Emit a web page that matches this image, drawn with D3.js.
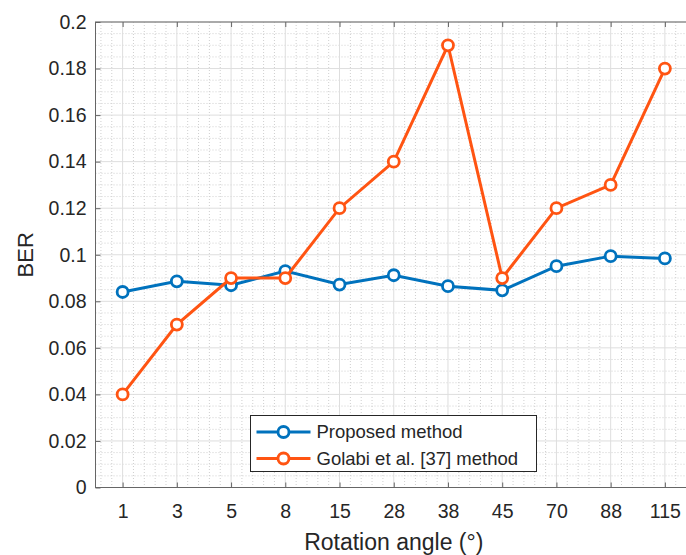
<!DOCTYPE html>
<html>
<head>
<meta charset="utf-8">
<script src="https://cdn.jsdelivr.net/npm/d3@7"></script>
<style>
  body { margin: 0; background: #fff; }
  text { font-family: "Liberation Sans", Arial, sans-serif; fill: #262626; }
</style>
</head>
<body>
<div id="chart"></div>
<script>
// Rotation angles (categorical x ticks)
const angles = ["1", "3", "5", "8", "15", "28", "38", "45", "70", "88", "115"];
const proposedBER = [0.084, 0.0886, 0.0869, 0.093, 0.0872, 0.0912, 0.0865, 0.0847, 0.0951, 0.0994, 0.0984];
const golabiBER = [0.04, 0.07, 0.09, 0.09, 0.12, 0.14, 0.19, 0.09, 0.12, 0.13, 0.18];
const yTicks = [0, 0.02, 0.04, 0.06, 0.08, 0.1, 0.12, 0.14, 0.16, 0.18, 0.2];
const seriesNames = ["Proposed method", "Golabi et al. [37] method"];

const config = {
  width: 686,
  height: 555,
  left: 95.5,
  right: 692,
  top: 22,
  bottom: 487.5,
  colors: ["#0072BD", "#FF5412"],
};

const svg = d3
  .select("#chart")
  .append("svg")
  .attr("width", config.width)
  .attr("height", config.height);

const x = d3.scaleLinear().domain([0.5, 11.5]).range([config.left, config.right]);
const y = d3.scaleLinear().domain([0, 0.2]).range([config.bottom, config.top]);

// Minor grid (dotted)
const minorX = d3.range(0.6, 11.5, 0.2).filter((v) => Math.abs(v - Math.round(v)) > 0.01);
const minorY = d3.range(0, 0.2001, 0.005).filter((v) => Math.abs(v / 0.02 - Math.round(v / 0.02)) > 0.01);

const grid = svg.append("g");
grid
  .selectAll("line.minorx")
  .data(minorX)
  .join("line")
  .attr("x1", (d) => x(d))
  .attr("x2", (d) => x(d))
  .attr("y1", config.top)
  .attr("y2", config.bottom)
  .attr("stroke", "#cfcfcf")
  .attr("stroke-dasharray", "1,2");
grid
  .selectAll("line.minory")
  .data(minorY)
  .join("line")
  .attr("x1", config.left)
  .attr("x2", config.right)
  .attr("y1", (d) => y(d))
  .attr("y2", (d) => y(d))
  .attr("stroke", "#cfcfcf")
  .attr("stroke-dasharray", "1,2");

// Major grid
grid
  .selectAll("line.majorx")
  .data(angles)
  .join("line")
  .attr("x1", (d, i) => x(i + 1))
  .attr("x2", (d, i) => x(i + 1))
  .attr("y1", config.top)
  .attr("y2", config.bottom)
  .attr("stroke", "#dedede");
grid
  .selectAll("line.majory")
  .data(yTicks)
  .join("line")
  .attr("x1", config.left)
  .attr("x2", config.right)
  .attr("y1", (d) => y(d))
  .attr("y2", (d) => y(d))
  .attr("stroke", "#dedede");

// Axes (ticks inward, box around)
const tickFmt = (d) => d3.format("")(+d.toFixed(2));
const xTickScale = d3.scalePoint().domain(angles).range([x(1), x(11)]);

svg
  .append("g")
  .attr("transform", `translate(0,${config.bottom})`)
  .call(d3.axisBottom(xTickScale).tickSizeInner(-5).tickSizeOuter(0).tickPadding(17))
  .call((g) => g.select(".domain").remove())
  .call((g) => g.selectAll("text").attr("font-size", 19.5).attr("dy", "0.71em"));

svg
  .append("g")
  .attr("transform", `translate(0,${config.top})`)
  .call(d3.axisTop(xTickScale).tickSizeInner(-5).tickSizeOuter(0).tickFormat(""))
  .call((g) => g.select(".domain").remove());

svg
  .append("g")
  .attr("transform", `translate(${config.left},0)`)
  .call(d3.axisLeft(y).tickValues(yTicks).tickFormat(tickFmt).tickSizeInner(-5).tickSizeOuter(0).tickPadding(9))
  .call((g) => g.select(".domain").remove())
  .call((g) => g.selectAll("text").attr("font-size", 19.5));

svg
  .append("g")
  .attr("transform", `translate(${config.right},0)`)
  .call(d3.axisRight(y).tickValues(yTicks).tickFormat("").tickSizeInner(-5).tickSizeOuter(0))
  .call((g) => g.select(".domain").remove());

svg.selectAll(".tick line").attr("stroke", "#666");

svg
  .append("rect")
  .attr("x", config.left)
  .attr("y", config.top)
  .attr("width", config.right - config.left)
  .attr("height", config.bottom - config.top)
  .attr("fill", "none")
  .attr("stroke", "#666")
  .attr("stroke-width", 1);

// Axis labels
svg
  .append("text")
  .attr("x", (config.left + config.right) / 2)
  .attr("y", 550)
  .attr("text-anchor", "middle")
  .attr("font-size", 23)
  .text("Rotation angle (°)");

svg
  .append("text")
  .attr("transform", `translate(33,${(config.top + config.bottom) / 2}) rotate(-90)`)
  .attr("text-anchor", "middle")
  .attr("font-size", 22)
  .text("BER");

// Series
const line = d3
  .line()
  .x((d, i) => x(i + 1))
  .y((d) => y(d));

[proposedBER, golabiBER].forEach((values, k) => {
  const g = svg.append("g");
  g.append("path")
    .datum(values)
    .attr("d", line)
    .attr("fill", "none")
    .attr("stroke", config.colors[k])
    .attr("stroke-width", 3);
  g.selectAll("circle")
    .data(values)
    .join("circle")
    .attr("cx", (d, i) => x(i + 1))
    .attr("cy", (d) => y(d))
    .attr("r", 5.5)
    .attr("fill", "#fff")
    .attr("stroke", config.colors[k])
    .attr("stroke-width", 2.8);
});

// Legend
const legend = svg.append("g").attr("transform", "translate(250.5,415.5)");
legend
  .append("rect")
  .attr("width", 286)
  .attr("height", 56)
  .attr("fill", "#fff")
  .attr("stroke", "#262626")
  .attr("stroke-width", 1);

seriesNames.forEach((name, k) => {
  const ly = 16.5 + k * 26.5;
  legend
    .append("line")
    .attr("x1", 6)
    .attr("x2", 60)
    .attr("y1", ly)
    .attr("y2", ly)
    .attr("stroke", config.colors[k])
    .attr("stroke-width", 3);
  legend
    .append("circle")
    .attr("cx", 33)
    .attr("cy", ly)
    .attr("r", 5.5)
    .attr("fill", "#fff")
    .attr("stroke", config.colors[k])
    .attr("stroke-width", 2.8);
  legend
    .append("text")
    .attr("x", 66)
    .attr("y", ly)
    .attr("dy", "0.35em")
    .attr("font-size", 18.5)
    .attr("fill", "#000")
    .text(name);
});
</script>
</body>
</html>
